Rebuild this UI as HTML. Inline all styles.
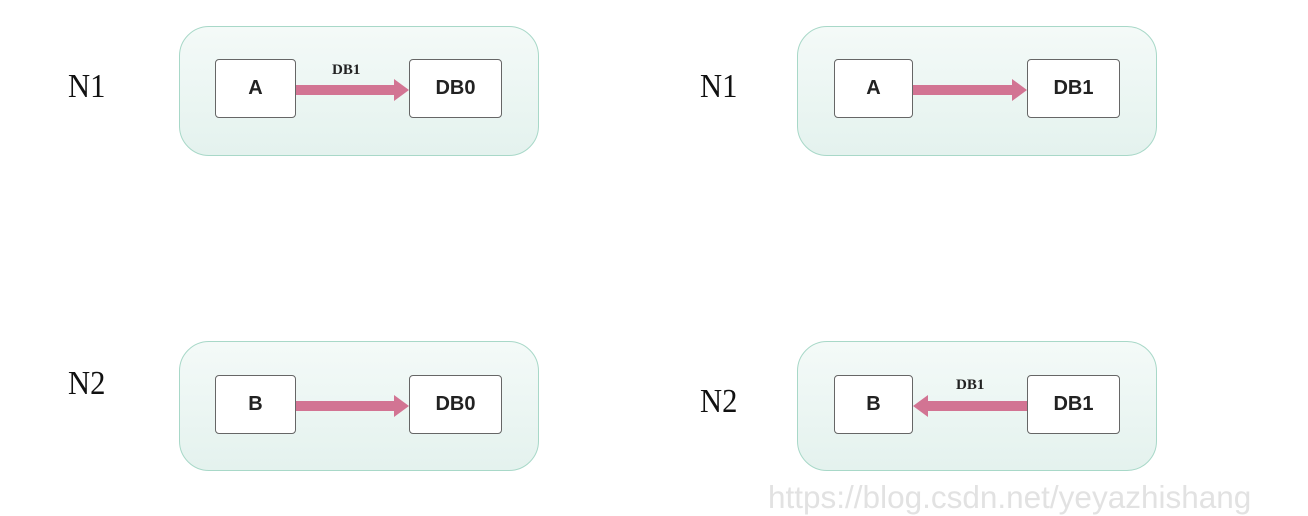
<!DOCTYPE html>
<html><head><style>
body{margin:0;width:1308px;height:512px;background:#fff;position:relative;overflow:hidden;font-family:"Liberation Sans",sans-serif}
.c{position:absolute;width:358px;height:128px;border:1.5px solid #a8d8c8;border-radius:30px;background:linear-gradient(#f4faf8,#e4f2ee)}
.b{position:absolute;height:59px;border:1.5px solid #666;border-radius:4px;background:#fff;font-weight:bold;font-size:20px;display:flex;align-items:center;justify-content:center;color:#222;box-sizing:border-box}
.n{position:absolute;font-family:"Liberation Serif",serif;font-size:34px;color:#111;transform:scaleX(0.9);transform-origin:left}
.l{position:absolute;font-family:"Liberation Serif",serif;font-weight:bold;font-size:15px;color:#222}
svg{position:absolute;left:0;top:0}
</style></head><body>
<div class="n" style="left:68px;top:68px">N1</div>
<div class="n" style="left:700px;top:68px">N1</div>
<div class="n" style="left:68px;top:365px">N2</div>
<div class="n" style="left:700px;top:383px">N2</div>
<div class="c" style="left:179px;top:26px"></div>
<div class="c" style="left:797px;top:26px"></div>
<div class="c" style="left:179px;top:341px"></div>
<div class="c" style="left:797px;top:341px"></div>
<div class="b" style="left:215px;top:59px;width:81px">A</div>
<div class="b" style="left:409px;top:59px;width:93px">DB0</div>
<div class="b" style="left:834px;top:59px;width:79px">A</div>
<div class="b" style="left:1027px;top:59px;width:93px">DB1</div>
<div class="b" style="left:215px;top:375px;width:81px">B</div>
<div class="b" style="left:409px;top:375px;width:93px">DB0</div>
<div class="b" style="left:834px;top:375px;width:79px">B</div>
<div class="b" style="left:1027px;top:375px;width:93px">DB1</div>
<div class="l" style="left:332px;top:62px">DB1</div>
<div class="l" style="left:956px;top:377px">DB1</div>
<svg width="1308" height="512">
<g fill="#d27493">
<polygon points="296,85 394,85 394,79 409,90 394,101 394,95 296,95"/>
<polygon points="913,85 1012,85 1012,79 1027,90 1012,101 1012,95 913,95"/>
<polygon points="296,401 394,401 394,395 409,406 394,417 394,411 296,411"/>
<polygon points="1027,401 928,401 928,395 913,406 928,417 928,411 1027,411"/>
</g></svg>
<div style="position:absolute;left:768px;top:479px;font-size:31.5px;color:#e2e2e2">https://blog.csdn.net/yeyazhishang</div>
</body></html>
